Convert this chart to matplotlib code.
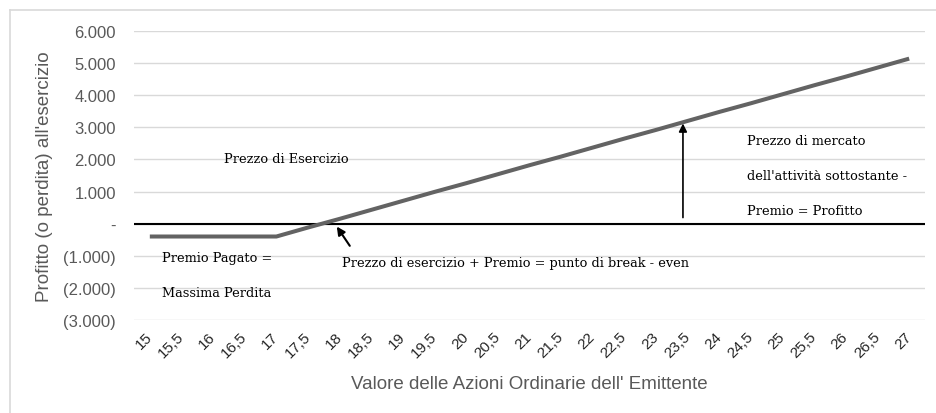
import matplotlib
matplotlib.use("Agg")
import matplotlib.pyplot as plt
from matplotlib.ticker import FuncFormatter
from matplotlib.lines import Line2D

# prezzo dell'azione (categorie asse x)
prezzi = ["15", "15,5", "16", "16,5", "17", "17,5", "18", "18,5", "19", "19,5",
          "20", "20,5", "21", "21,5", "22", "22,5", "23", "23,5", "24", "24,5",
          "25", "25,5", "26", "26,5", "27"]
# profitto (o perdita) all'esercizio
profitto = [-400, -400, -400, -400, -400, -120, 150, 430, 710, 990,
            1260, 1540, 1820, 2090, 2370, 2650, 2920, 3200, 3480, 3750,
            4030, 4310, 4580, 4860, 5140]
y_ticks = [-3000, -2000, -1000, 0, 1000, 2000, 3000, 4000, 5000, 6000]

GRAY = "#595959"
SANS = "Liberation Sans"
SERIF = "DejaVu Serif"


def fmt_y(v, pos):
    v = int(round(v))
    if v == 0:
        return "-"
    s = f"{abs(v):,}".replace(",", ".")
    return f"({s})" if v < 0 else s


fig = plt.figure(figsize=(9.36, 4.14), dpi=100)
ax = fig.add_axes([134 / 936, 93 / 414, (925 - 134) / 936, (382 - 93) / 414])

x = list(range(len(prezzi)))
ax.plot(x, profitto, color="#636363", lw=2.9, solid_capstyle="butt", zorder=3)
ax.axhline(0, color="black", lw=1.5, zorder=2)

ax.set_xlim(-0.5, len(prezzi) - 0.5)
ax.set_ylim(-3000, 6000)
ax.set_yticks(y_ticks)
ax.yaxis.set_major_formatter(FuncFormatter(fmt_y))
ax.set_xticks(x)
ax.set_xticklabels(prezzi, rotation=45, ha="right", va="center",
                   rotation_mode="anchor", fontsize=11, family=SANS,
                   color="#262626")
for lab in ax.get_yticklabels():
    lab.set_fontfamily(SANS)
    lab.set_fontsize(12)
    lab.set_color(GRAY)

ax.tick_params(axis="both", length=0)
ax.tick_params(axis="y", pad=13)
ax.tick_params(axis="x", pad=10)
ax.grid(axis="y", color="#d9d9d9", lw=1)
ax.set_axisbelow(True)
for sp in ax.spines.values():
    sp.set_visible(False)

ax.set_xlabel("Valore delle Azioni Ordinarie dell' Emittente", fontsize=13.5,
              family=SANS, color=GRAY, va="center")
ax.xaxis.set_label_coords(0.5, -(385 - 321) / 289)
ax.set_ylabel("Profitto (o perdita) all'esercizio", fontsize=13.5,
              family=SANS, color=GRAY, va="center")
ax.yaxis.set_label_coords((45 - 134) / 791, 0.5)

tkw = dict(fontsize=9.3, family=SERIF, color="black", va="center", ha="left")
ax.text(2.34, 2030, "Prezzo di Esercizio", **tkw)
ax.text(0.38, -1060, "Premio Pagato =", **tkw)
ax.text(0.38, -2150, "Massima Perdita", **tkw)
ax.text(6.07, -1215, "Prezzo di esercizio + Premio = punto di break - even", **tkw)
ax.text(18.88, 2590, "Prezzo di mercato", **tkw)
ax.text(18.88, 1500, "dell'attività sottostante -", **tkw)
ax.text(18.88, 410, "Premio = Profitto", **tkw)

ax.annotate("", xy=(16.85, 3120), xytext=(16.85, 190),
            arrowprops=dict(arrowstyle="-|>", color="black", lw=1.2,
                            mutation_scale=12, shrinkA=0, shrinkB=0))
ax.annotate("", xy=(5.91, -90), xytext=(6.32, -690),
            arrowprops=dict(arrowstyle="-|>", color="black", lw=1.5,
                            mutation_scale=12, shrinkA=0, shrinkB=0))

# cornice dell'area grafico
fig.add_artist(Line2D([10 / 936, 10 / 936], [0, 1 - 11 / 414],
                      transform=fig.transFigure, color="#d9d9d9", lw=1.2))
fig.add_artist(Line2D([10 / 936, 1], [1 - 11 / 414, 1 - 11 / 414],
                      transform=fig.transFigure, color="#d9d9d9", lw=1.2))

fig.savefig("out.png", dpi=100)
